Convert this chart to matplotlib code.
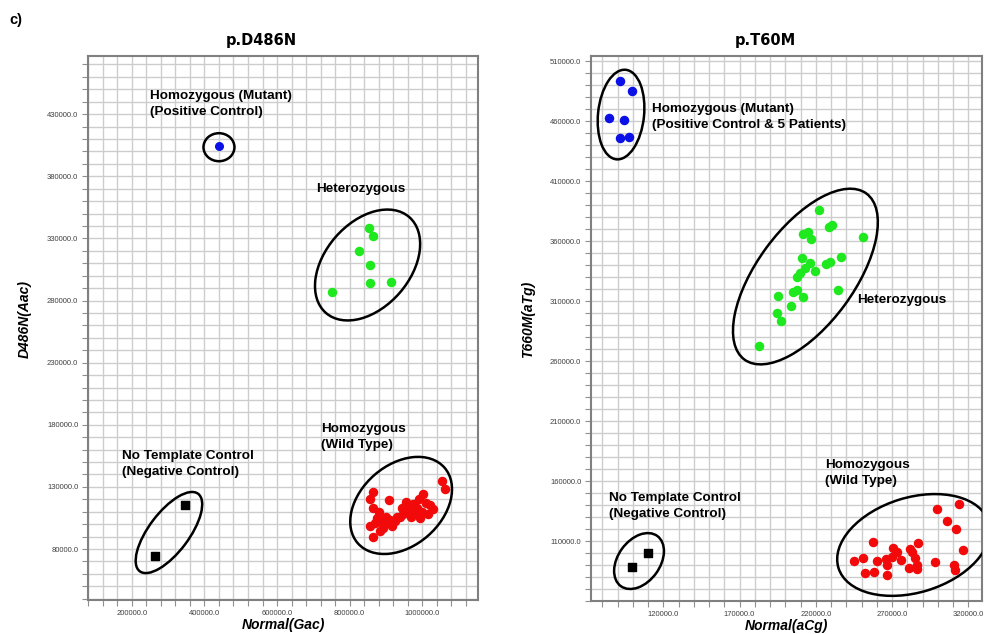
import numpy as np
import matplotlib
matplotlib.use("Agg")
import matplotlib.pyplot as plt
import matplotlib.transforms as mtransforms
from matplotlib.patches import Ellipse
from matplotlib.ticker import MultipleLocator
from matplotlib import font_manager

# ---- data: p.D486N ----
d486_mut_x = [440000]
d486_mut_y = [404000]
d486_het_x = [854000, 865000, 826000, 857000, 857000, 915000, 752000]
d486_het_y = [338100, 331600, 319500, 308200, 294500, 295300, 287200]
d486_wt_x = [864000, 857000, 909000, 864000, 1055000, 1063000, 1003000, 956000,
             1022000, 994000, 856000, 865000, 884000, 903000, 925000, 939000,
             967000, 986000, 884000, 917000, 948000, 981000, 876000, 870000,
             893000, 912000, 930000, 960000, 975000, 1000000, 1010000, 1030000,
             990000, 970000, 945000, 900000, 880000, 1015000]
d486_wt_y = [126000, 120000, 119500, 113000, 134800, 128400, 124300, 117900,
             115400, 105000, 98500, 89700, 102600, 100900, 102600, 105800,
             112200, 113000, 94400, 98500, 108200, 108200, 105000, 101000,
             97000, 103000, 106000, 110000, 116000, 110000, 117000, 112000,
             120000, 106000, 113000, 106000, 110000, 108000]
d486_ntc_x = [347000, 264300]
d486_ntc_y = [115500, 74300]

# ---- data: p.T60M ----
t60_mut_x = [91400, 99700, 84400, 94200, 91400, 97300]
t60_mut_y = [493300, 484800, 462300, 460800, 445600, 446400]
t60_het_x = [222100, 228700, 230800, 250700, 211400, 215100, 216600, 210700,
             236500, 226700, 229300, 216200, 219500, 212900, 209600, 207900,
             234700, 207500, 205200, 211800, 195000, 203700, 194700, 197000,
             182900]
t60_het_y = [385800, 371900, 373300, 363100, 365600, 367800, 361400, 345600,
             346900, 340600, 342800, 341400, 335000, 337300, 333100, 330300,
             319200, 319200, 317800, 313100, 314400, 305800, 300300, 293300,
             272800]
t60_wt_x = [299300, 313900, 306200, 311700, 316500, 257700, 287200, 281800,
            270800, 273000, 245200, 250700, 259900, 266000, 266500, 275700,
            285000, 286200, 281300, 286200, 252300, 258200, 266500, 298400,
            310800, 311100, 269800, 282900]
t60_wt_y = [136700, 140800, 126900, 120000, 102800, 109400, 108100, 103100,
            103900, 101100, 93600, 96100, 93600, 94800, 90000, 94200,
            95600, 90000, 87800, 86400, 83100, 84200, 81700, 92300,
            90300, 85800, 96900, 101100]
t60_ntc_x = [99500, 110000]
t60_ntc_y = [88300, 99800]

d486_xticks = [200000, 400000, 600000, 800000, 1000000]
d486_yticks = [80000, 130000, 180000, 230000, 280000, 330000, 380000, 430000]
t60_xticks = [120000, 170000, 220000, 270000, 320000]
t60_yticks = [110000, 160000, 210000, 260000, 310000, 360000, 410000, 460000, 510000]

names = {f.name for f in font_manager.fontManager.ttflist}
narrow = ['Liberation Sans Narrow', 'Liberation Sans', 'DejaVu Sans']
narrow = [n for n in narrow if n in names] or ['DejaVu Sans']
arial = [n for n in ['Liberation Sans', 'DejaVu Sans'] if n in names]
note_size = 11 if narrow[0] == 'Liberation Sans Narrow' else 9.7

fig = plt.figure(figsize=(9.84, 6.34), dpi=100)
W, H = 984, 634


def make_axes(l, r, t, b):
    return fig.add_axes([l / W, (H - b) / H, (r - l) / W, (b - t) / H])


def ring(ax, cx, cy, w, h, ang):
    e = Ellipse((0, 0), w, h, angle=ang, fill=False, ec='black', lw=1.8,
                transform=mtransforms.ScaledTranslation(cx, cy, ax.transData),
                zorder=4)
    ax.add_patch(e)


def style(ax, xlim, ylim, xticks, yticks, xgrid, ygrid, title, xlabel, ylabel):
    ax.set_xlim(*xlim)
    ax.set_ylim(*ylim)
    ax.set_xticks(xticks)
    ax.set_yticks(yticks)
    ax.set_xticklabels([f'{v:.1f}' for v in xticks])
    ax.set_yticklabels([f'{v:.1f}' for v in yticks])
    ax.xaxis.set_minor_locator(MultipleLocator(xgrid))
    ax.yaxis.set_minor_locator(MultipleLocator(ygrid))
    ax.grid(which='both', color='#cdcdcd', lw=1.0, zorder=0)
    ax.set_axisbelow(True)
    ax.tick_params(which='both', length=4, color='#909090', width=0.8,
                   labelsize=5.5, labelcolor='#404040')
    ax.tick_params(axis='x', pad=3.5)
    ax.tick_params(axis='y', pad=3)
    for lab in ax.get_xticklabels() + ax.get_yticklabels():
        lab.set_family(arial)
    for s in ax.spines.values():
        s.set_color('#808080')
        s.set_linewidth(1.5)
    ax.text(0.445, 1.028, title, transform=ax.transAxes, ha='center', va='center',
            fontsize=10.5, fontweight='bold', family='DejaVu Sans')
    ax.set_xlabel(xlabel, fontsize=10, fontweight='bold', fontstyle='italic', family=arial)
    ax.set_ylabel(ylabel, fontsize=10, fontweight='bold', fontstyle='italic', family=arial)
    ax.xaxis.set_label_coords(0.5, -0.0325)
    ax.yaxis.set_label_coords(-0.143, 0.517)


def note(ax, x, y, s):
    ax.text(x, y, s, ha='left', va='center', fontsize=note_size, fontweight='bold',
            family=narrow, linespacing=1.45, zorder=5)


# ---- left panel ----
ax1 = make_axes(88, 478, 56, 600)
style(ax1, (79000, 1154000), (39000, 476800), d486_xticks, d486_yticks,
      40000, 10000, 'p.D486N', 'Normal(Gac)', 'D486N(Aac)')
ax1.scatter(d486_mut_x, d486_mut_y, s=30, c='#0a10e6', zorder=3)
ax1.scatter(d486_het_x, d486_het_y, s=34, c='#1ee81e', zorder=3)
ax1.scatter(d486_wt_x, d486_wt_y, s=34, c='#f20a0a', zorder=3)
ax1.scatter(d486_ntc_x, d486_ntc_y, s=36, c='black', marker='s', zorder=3)
ring(ax1, 440000, 403400, 31, 28, 0)
ring(ax1, 849600, 308600, 127, 85, 49)
ring(ax1, 942100, 115100, 115, 81, 41)
ring(ax1, 302100, 93300, 97, 40, 53)
note(ax1, 249700, 438000, 'Homozygous (Mutant)\n(Positive Control)')
note(ax1, 707600, 369500, 'Heterozygous')
note(ax1, 721400, 170300, 'Homozygous\n(Wild Type)')
note(ax1, 172400, 148500, 'No Template Control\n(Negative Control)')

# ---- right panel ----
ax2 = make_axes(591, 982, 56, 601)
style(ax2, (72600, 329000), (60000, 514200), t60_xticks, t60_yticks,
      10000, 10000, 'p.T60M', 'Normal(aCg)', 'T660M(aTg)')
ax2.scatter(t60_mut_x, t60_mut_y, s=34, c='#0a10e6', zorder=3)
ax2.scatter(t60_het_x, t60_het_y, s=34, c='#1ee81e', zorder=3)
ax2.scatter(t60_wt_x, t60_wt_y, s=34, c='#f20a0a', zorder=3)
ax2.scatter(t60_ntc_x, t60_ntc_y, s=36, c='black', marker='s', zorder=3)
ring(ax2, 92300, 465400, 90, 46, 84)
ring(ax2, 213200, 330400, 206, 97, 53.7)
ring(ax2, 284100, 106700, 157, 95, 17)
ring(ax2, 104100, 93300, 62, 42, 54)
note(ax2, 112600, 463300, 'Homozygous (Mutant)\n(Positive Control & 5 Patients)')
note(ax2, 247000, 310800, 'Heterozygous')
note(ax2, 225900, 166300, 'Homozygous\n(Wild Type)')
note(ax2, 84400, 138800, 'No Template Control\n(Negative Control)')

fig.text(9 / W, 1 - 20 / H, 'c)', ha='left', va='center', fontsize=10.5,
         fontweight='bold', family=arial)

fig.savefig('out.png', dpi=100)
